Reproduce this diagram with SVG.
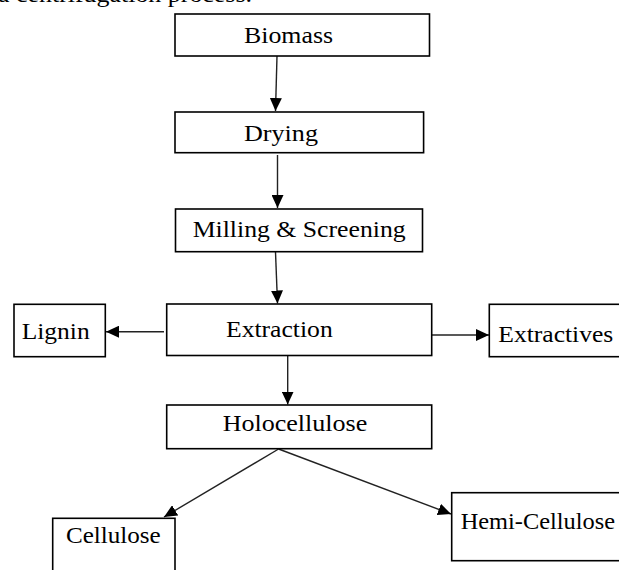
<svg xmlns="http://www.w3.org/2000/svg" width="619" height="570" viewBox="0 0 619 570">
<defs>
<marker id="ah" markerUnits="userSpaceOnUse" markerWidth="14" markerHeight="12" refX="13" refY="6" orient="auto">
<path d="M0,0 L13,6 L0,12 Z" fill="#000"/>
</marker>
<style>
.box{fill:#fff;stroke:#000;stroke-width:1.6}
.t{font-family:"Liberation Serif","Times New Roman",serif;font-size:24px;fill:#000}
.c{fill:none;stroke:#222;stroke-width:1.4;marker-end:url(#ah)}
</style>
</defs>
<rect width="619" height="570" fill="#fff"/>
<text class="t" x="-2" y="2" textLength="254" lengthAdjust="spacingAndGlyphs">a centrifugation process.</text>
<g id="connectors">
<line class="c" x1="277" y1="56" x2="275.5" y2="111"/>
<line class="c" x1="277.5" y1="155" x2="277.5" y2="208"/>
<line class="c" x1="275.5" y1="252" x2="277.5" y2="303.5"/>
<line class="c" x1="164" y1="331.7" x2="106" y2="331.7"/>
<line class="c" x1="431.7" y1="335" x2="489" y2="335"/>
<line class="c" x1="287.7" y1="355.5" x2="287.7" y2="404.5"/>
<line class="c" x1="278.6" y1="449" x2="164" y2="517"/>
<line class="c" x1="278.6" y1="449" x2="451" y2="514"/>
</g>
<g id="biomass">
<rect class="box" x="175" y="14" width="254.5" height="42"/>
<text class="t" x="244" y="42.7" textLength="89" lengthAdjust="spacingAndGlyphs">Biomass</text>
</g>
<g id="drying">
<rect class="box" x="175" y="112" width="248.6" height="40.7"/>
<text class="t" x="244" y="140.5" textLength="74" lengthAdjust="spacingAndGlyphs">Drying</text>
</g>
<g id="milling">
<rect class="box" x="175.5" y="209" width="247" height="42.7"/>
<text class="t" x="192.7" y="237.3" textLength="213" lengthAdjust="spacingAndGlyphs">Milling &amp; Screening</text>
</g>
<g id="extraction">
<rect class="box" x="166.7" y="304" width="265" height="51.5"/>
<text class="t" x="226" y="336.7" textLength="106.7" lengthAdjust="spacingAndGlyphs">Extraction</text>
</g>
<g id="lignin">
<rect class="box" x="14" y="304.3" width="91.3" height="52.4"/>
<text class="t" x="21.7" y="339" textLength="68" lengthAdjust="spacingAndGlyphs">Lignin</text>
</g>
<g id="extractives">
<rect class="box" x="489.3" y="304.3" width="140" height="52.4"/>
<text class="t" x="498.3" y="341.7" textLength="115" lengthAdjust="spacingAndGlyphs">Extractives</text>
</g>
<g id="holocellulose">
<rect class="box" x="166.7" y="405" width="265" height="43.7"/>
<text class="t" x="222.7" y="431" textLength="144.6" lengthAdjust="spacingAndGlyphs">Holocellulose</text>
</g>
<g id="cellulose">
<rect class="box" x="52.7" y="518.3" width="122.3" height="70"/>
<text class="t" x="66" y="543.3" textLength="94.7" lengthAdjust="spacingAndGlyphs">Cellulose</text>
</g>
<g id="hemicellulose">
<rect class="box" x="451.7" y="492.7" width="180" height="68"/>
<text class="t" x="460.7" y="529.3" textLength="154.3" lengthAdjust="spacingAndGlyphs">Hemi-Cellulose</text>
</g>
</svg>
